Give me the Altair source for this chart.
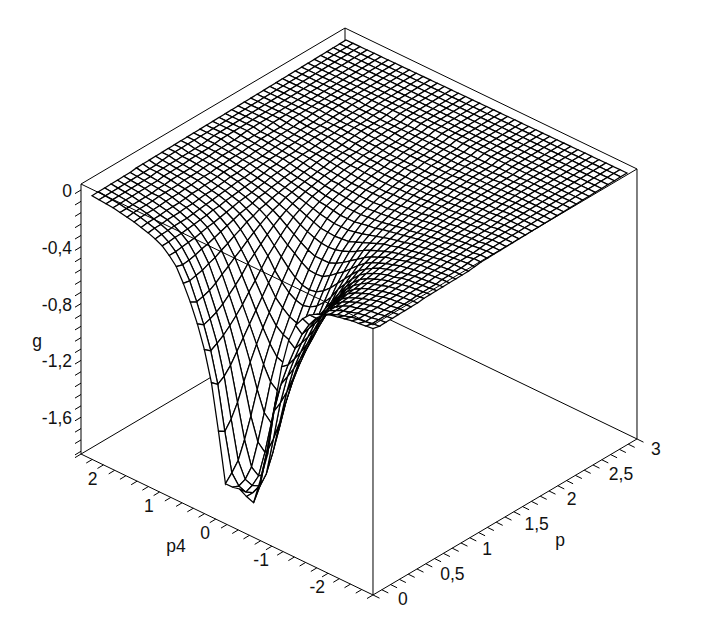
import altair as alt
import pandas as pd

# g on the p = 0 edge, from p4 = 2.4 (index 0) to p4 = -2.4 (index 40)
g_p0 = [-.005,-.01,-.015,-.02,-.03,-.04,-.05,-.065,-.08,-.10,-.125,-.17,-.225,-.32,-.43,-.56,-.72,-.93,-1.25,-1.60,
        -1.60,-1.59,-1.62,-1.64,-1.45,-1.25,-.88,-.58,-.37,-.24,-.17,-.12,-.09,-.07,-.05,-.04,-.03,-.02,-.015,-.01,-.005]

# depth (-g) read per mesh row; row r = r mesh steps away from the trough axis, column j = p index
depth = [
 [1.65,1.64,1.62,1.58,1.44,1.26,1.06,.89,.76,.66,.565,.48,.395,.32,.26,.21,.17,.14,.115,.10,.085,.07,.065,.055,.045,.04,.03,.03,.02,.02,.015,.01,.01],
 [1.63,1.62,1.60,1.54,1.39,1.21,1.02,.87,.74,.64,.55,.47,.39,.32,.255,.205,.17,.14,.115,.10,.085,.07,.065,.055,.045,.04,.03,.03,.02,.02,.015,.01,.01],
 [1.57,1.55,1.49,1.37,1.23,1.07,.92,.80,.70,.60,.52,.44,.36,.30,.24,.20,.16,.13,.11,.095,.08,.07,.06,.05,.045,.04,.03,.03,.02,.02,.015,.01,.01],
 [1.30,1.28,1.22,1.13,1.01,.90,.80,.71,.63,.55,.47,.395,.32,.27,.22,.18,.15,.12,.105,.09,.08,.07,.06,.05,.04,.035,.03,.03,.02,.02,.015,.01,.01],
 [.98,.97,.94,.89,.82,.75,.68,.61,.54,.47,.41,.34,.285,.235,.195,.16,.135,.115,.10,.085,.07,.065,.055,.045,.04,.035,.03,.025,.02,.02,.015,.01,.01],
 [.76,.755,.73,.70,.66,.615,.565,.505,.45,.39,.33,.285,.24,.20,.165,.14,.12,.10,.09,.08,.07,.06,.05,.045,.04,.03,.03,.02,.02,.015,.01,.01,.01],
 [.60,.595,.58,.56,.53,.49,.45,.405,.35,.31,.27,.23,.195,.165,.14,.12,.105,.09,.08,.07,.06,.055,.045,.04,.03,.03,.025,.02,.015,.015,.01,.01,.01],
 [.46,.455,.445,.43,.405,.37,.34,.305,.275,.24,.21,.18,.155,.135,.12,.10,.09,.08,.07,.065,.055,.05,.04,.035,.03,.03,.02,.02,.015,.01,.01,.01,.01],
 [.33,.33,.32,.31,.29,.275,.25,.23,.205,.185,.16,.145,.125,.115,.10,.09,.08,.07,.065,.055,.05,.04,.035,.03,.03,.025,.02,.015,.01,.01,.01,.01,.005],
 [.24,.24,.235,.225,.21,.20,.185,.17,.155,.14,.125,.115,.105,.09,.085,.075,.07,.06,.055,.05,.04,.035,.03,.03,.025,.02,.015,.015,.01,.01,.01,.005,.005],
 [.17,.17,.165,.16,.155,.145,.135,.13,.12,.11,.10,.09,.085,.08,.07,.065,.055,.05,.045,.04,.035,.03,.03,.025,.02,.015,.015,.01,.01,.01,.005,.005,.005],
 [.125,.125,.12,.12,.115,.11,.105,.10,.09,.09,.08,.075,.07,.065,.06,.055,.05,.04,.04,.03,.03,.03,.02,.02,.015,.015,.01,.01,.01,.005,.005,.005,.005],
 [.095,.095,.095,.09,.09,.09,.085,.08,.075,.07,.065,.06,.055,.05,.05,.045,.04,.035,.03,.03,.025,.02,.02,.015,.015,.01,.01,.01,.005,.005,.005],
 [.075,.075,.075,.07,.07,.07,.065,.065,.06,.055,.055,.05,.045,.04,.04,.035,.03,.03,.03,.025,.02,.02,.015,.015,.01,.01,.01,.005,.005],
 [.06,.06,.06,.06,.055,.055,.055,.05,.045,.045,.04,.04,.035,.03,.03,.03,.025,.025,.02,.02,.015,.015,.01,.01,.01,.005,.005],
 [.045,.045,.045,.045,.045,.04,.04,.04,.035,.035,.03,.03,.03,.025,.025,.02,.02,.02,.015,.015,.01,.01,.01,.01,.005],
 [.035,.035,.035,.035,.035,.03,.03,.03,.03,.025,.025,.025,.02,.02,.02,.015,.015,.015,.01,.01,.01,.01,.005],
 [.03,.03,.03,.03,.03,.03,.025,.025,.02,.02,.02,.02,.015,.015,.015,.01,.01,.01,.01,.005],
 [.02,.02,.02,.02,.02,.02,.02,.02,.015,.015,.015,.015,.01,.01,.01,.01,.005],
 [.015,.015,.015,.015,.015,.015,.015,.015,.01,.01,.01,.01,.01,.01,.01,.01,.005],
 [.01,.01,.01,.01,.01,.01,.01,.01,.01,.01,.005],
 [.005,.005,.005,.005,.005,.005,.005],
]

p_labels = [("0",0),("0,5",.5),("1",1),("1,5",1.5),("2",2),("2,5",2.5),("3",3)]
p4_labels = [("2",2),("1",1),("0",0),("-1",-1),("-2",-2)]
g_labels = [("0",0),("-0,4",-.4),("-0,8",-.8),("-1,2",-1.2),("-1,6",-1.6)]
p_ticks = [i/10 for i in range(31)]
p4_ticks = [-2.6 + i*.2 for i in range(27)]
g_ticks = [.0 - i*.08 for i in range(24)]

N = 40
AK = 21

def g_at(j, k):
    if j == 0:
        return g_p0[k]
    row = depth[abs(k - AK)]
    return -row[j] if j < len(row) else 0.0

def surf(j, k):
    g = g_at(j, k)
    return [373 + 6.35*j - 7.025*(N-k), 328 - 3.875*j - 3.325*(N-k) - 141*g]

features = []
for j in range(N-1, -1, -1):
    for k in range(N):
        ring = [surf(j,k), surf(j+1,k), surf(j+1,k+1), surf(j,k+1), surf(j,k)]
        features.append({"type":"Feature","properties":{},"geometry":{"type":"Polygon","coordinates":[ring]}})

def floor(p, p4):
    return (227 + 88*p - 56.15*p4, 524.5 - 52*p - 27.1*p4)

Z = 270  # box height
def box(p, p4, top=False):
    x, y = floor(p, p4)
    return (x, y - (Z if top else 0))

def seg_rows(segs, prefix):
    rows = []
    for i, (a, b) in enumerate(segs):
        rows.append({"s": f"{prefix}{i}", "o": 0, "x": a[0], "y": a[1]})
        rows.append({"s": f"{prefix}{i}", "o": 1, "x": b[0], "y": b[1]})
    return pd.DataFrame(rows)

xs = alt.Scale(domain=[8, 711])
ys = alt.Scale(domain=[615, 8])

def lines(df, width=1.0):
    return alt.Chart(df).mark_line(color="black", strokeWidth=width, interpolate="linear").encode(
        x=alt.X("x:Q", scale=xs, axis=None),
        y=alt.Y("y:Q", scale=ys, axis=None),
        detail="s:N",
        order="o:Q")

back = seg_rows([
    (box(0,2.6,True), box(3,2.6,True)),
    (box(3,2.6,True), box(3,-2.6,True)),
    (box(0,2.6), box(3,2.6)),
    (box(3,2.6), box(3,-2.6)),
    (box(3,2.6), box(3,2.6,True)),
    (box(0,2.6), box(0,2.6,True)),
    (box(3,-2.6), box(3,-2.6,True)),
], "b")

front_segs = [
    (box(0,2.6,True), box(0,-2.6,True)),
    (box(0,-2.6,True), box(3,-2.6,True)),
    (box(0,-2.6), (box(0,-2.6)[0], 328)),
    (box(0,2.6), box(0,-2.6)),
    (box(0,-2.6), box(3,-2.6)),
]
tick_segs = []
for p in p_ticks:
    a = floor(p, -2.6)
    tick_segs.append((a, (a[0]+6.5, a[1]+3.2)))
for p4 in p4_ticks:
    a = floor(0, p4)
    tick_segs.append((a, (a[0]-6, a[1]+3.6)))
for g in g_ticks:
    a = (81, 190 - 142*g)
    tick_segs.append((a, (a[0]-6, a[1]+3.6)))
front = seg_rows(front_segs + tick_segs, "f")

surface = alt.Chart(alt.Data(values=features)).mark_geoshape(
    fill="white", stroke="black", strokeWidth=1.25
).project(type="identity", scale=1, translate=[-8, -8])

def labels(df, align):
    return alt.Chart(df).mark_text(align=align, baseline="middle", font="Liberation Sans",
                                   fontSize=17.5, color="#111").encode(
        x=alt.X("x:Q", scale=xs, axis=None),
        y=alt.Y("y:Q", scale=ys, axis=None),
        text="t:N")

g_df = pd.DataFrame([{"t":t, "x":72, "y":192 - 142*v} for t, v in g_labels])
p4_df = pd.DataFrame([{"t":t, "x":floor(0,v)[0]-22, "y":floor(0,v)[1]+9.5} for t, v in p4_labels])
p_df = pd.DataFrame([{"t":t, "x":floor(v,-2.6)[0]+25-3.67*v, "y":floor(v,-2.6)[1]+5+2*v} for t, v in p_labels])
title_df = pd.DataFrame([{"t":"g","x":37,"y":342},{"t":"p4","x":176,"y":547},{"t":"p","x":560,"y":541}])

chart = alt.layer(
    lines(back), surface, lines(front),
    labels(g_df, "right"), labels(p4_df, "center"), labels(p_df, "left"), labels(title_df, "center"),
).properties(width=703, height=607, padding=0, autosize="none").configure_view(stroke=None)

chart.save("out.html", embed_options={"renderer": "svg", "actions": False})
